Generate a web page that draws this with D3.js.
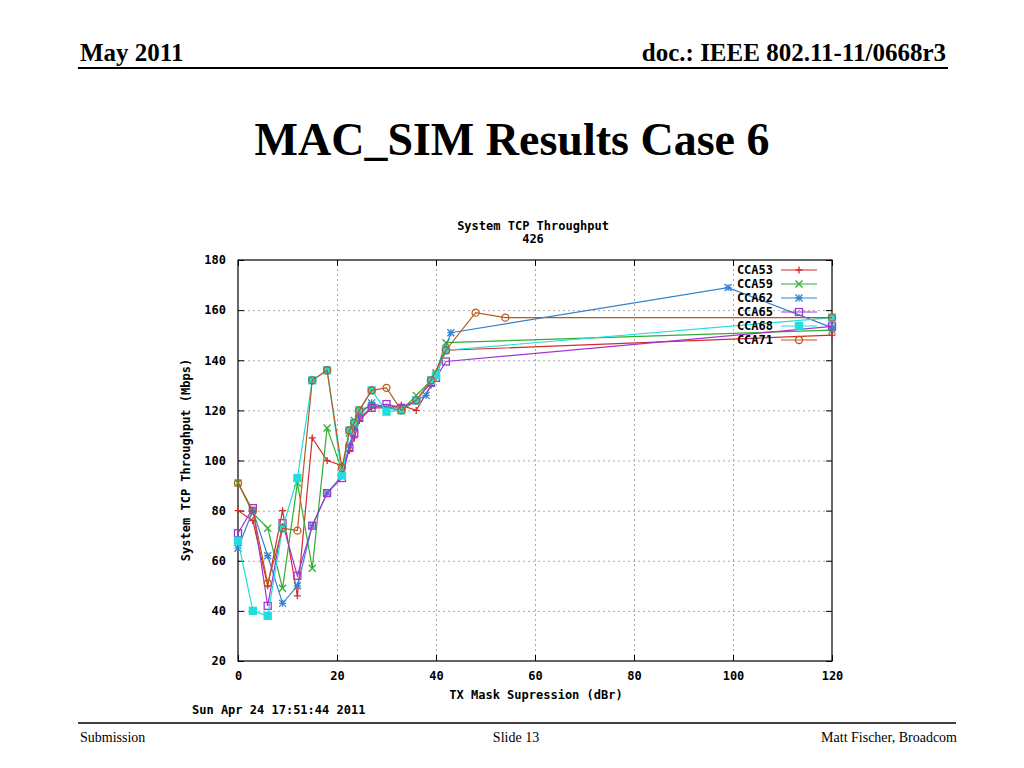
<!DOCTYPE html>
<html>
<head>
<meta charset="utf-8">
<script src="https://cdn.jsdelivr.net/npm/d3@7/dist/d3.min.js"></script>
<style>
  html, body { margin: 0; padding: 0; background: #fff; }
  .slide-text { font-family: "Liberation Serif", "Times New Roman", serif; fill: #000; }
  .gp-text { font-family: "DejaVu Sans Mono", monospace; font-weight: bold; font-size: 12px; fill: #000; }
</style>
</head>
<body>
<div id="slide"></div>
<script>
// ── Data ─────────────────────────────────────────────────────────────────
const seriesNames = ["CCA53", "CCA59", "CCA62", "CCA65", "CCA68", "CCA71"];
const seriesColors = ["#d42a2a", "#2fae2f", "#3383cf", "#a235d6", "#22dede", "#b95a1c"];
const seriesMarkers = ["plus", "cross", "star", "square", "filled", "circle"];

const xBase = [0, 3, 6, 9, 12, 15, 18, 21, 22.5, 23.5, 24.5, 27, 30, 33, 36, 39, 40, 42, 120];
const xCCA62 = [0, 3, 6, 9, 12, 15, 18, 21, 22.5, 23.5, 24.5, 27, 30, 33, 36, 38, 40, 43, 99, 120];
const xCCA71 = [0, 3, 6, 9, 12, 15, 18, 21, 22.5, 23.5, 24.5, 27, 30, 33, 36, 39, 42, 48, 54, 120];

const yCCA53 = [80, 76, 50, 80, 46, 109, 100, 98, 104, 109, 116, 121, 121, 122, 120, 130, 134, 144, 150];
const yCCA59 = [91, 79, 73, 49, 91, 57, 113, 96, 111, 116, 120, 122, 121, 120, 126, 132, 135, 147, 152];
const yCCA62 = [65, 80, 62, 43, 50, 74, 87, 94, 106, 113, 118, 123, 121, 121, 124, 126, 134, 151, 169, 153];
const yCCA65 = [71, 81, 42, 75, 54, 74, 87, 93, 105, 111, 117, 121, 122.5, 121, 124, 131, 133, 139.5, 153.5];
const yCCA68 = [68, 40, 38, 73, 93, 132, 136, 94, 112, 115, 120, 128, 119.5, 120, 124, 132, 134, 144, 157];
const yCCA71 = [91, 80, 51, 73, 72, 132, 136, 97, 112, 115, 120, 128, 129, 120, 124, 132, 144, 159, 157, 157];

const xTicks = [0, 20, 40, 60, 80, 100, 120];
const yTicks = [20, 40, 60, 80, 100, 120, 140, 160, 180];

function renderSlide(selector) {
  const seriesX = [xBase, xBase, xCCA62, xBase, xBase, xCCA71];
  const seriesY = [yCCA53, yCCA59, yCCA62, yCCA65, yCCA68, yCCA71];
  const series = seriesNames.map((name, i) => ({
    name,
    color: seriesColors[i],
    marker: seriesMarkers[i],
    points: seriesX[i].map((x, j) => ({ x, y: seriesY[i][j] })),
  }));

  // ── SVG ──────────────────────────────────────────────────────────────────
  const svg = d3
    .select(selector)
    .append("svg")
    .attr("width", 1024)
    .attr("height", 768);

  // ── Slide header / footer ───────────────────────────────────────────────
  svg.append("text").attr("class", "slide-text")
    .attr("x", 80).attr("y", 61)
    .style("font-size", "25px").style("font-weight", "bold")
    .text("May 2011");

  svg.append("text").attr("class", "slide-text")
    .attr("x", 946).attr("y", 61)
    .attr("text-anchor", "end")
    .style("font-size", "25px").style("font-weight", "bold")
    .text("doc.: IEEE 802.11-11/0668r3");

  svg.append("line")
    .attr("x1", 78).attr("x2", 948).attr("y1", 68).attr("y2", 68)
    .attr("stroke", "#000").attr("stroke-width", 2);

  svg.append("text").attr("class", "slide-text")
    .attr("x", 512).attr("y", 155)
    .attr("text-anchor", "middle")
    .style("font-size", "46px").style("font-weight", "bold")
    .text("MAC_SIM Results Case 6");

  svg.append("line")
    .attr("x1", 78).attr("x2", 956).attr("y1", 723).attr("y2", 723)
    .attr("stroke", "#000").attr("stroke-width", 1.5);

  svg.append("text").attr("class", "slide-text")
    .attr("x", 80).attr("y", 742).style("font-size", "14px")
    .text("Submission");

  svg.append("text").attr("class", "slide-text")
    .attr("x", 516).attr("y", 742).attr("text-anchor", "middle")
    .style("font-size", "14px")
    .text("Slide 13");

  svg.append("text").attr("class", "slide-text")
    .attr("x", 957).attr("y", 742).attr("text-anchor", "end")
    .style("font-size", "14px")
    .text("Matt Fischer, Broadcom");

  // ── Scales ───────────────────────────────────────────────────────────────
  const xScale = d3.scaleLinear().domain([0, 120]).range([238, 832]);
  const yScale = d3.scaleLinear().domain([20, 180]).range([661, 260]);
  const left = xScale.range()[0], right = xScale.range()[1];
  const top = yScale.range()[1], bottom = yScale.range()[0];

  const g = svg.append("g").attr("class", "plot");

  // ── Grid Lines ───────────────────────────────────────────────────────────
  g.append("g")
    .attr("transform", `translate(0,${bottom})`)
    .call(d3.axisBottom(xScale).tickValues(xTicks.slice(1, -1)).tickSize(-(bottom - top)).tickFormat(""))
    .call((a) => a.select(".domain").remove())
    .call((a) => a.selectAll("line").attr("stroke", "#a8a8a8").attr("stroke-dasharray", "2,3"));

  g.append("g")
    .attr("transform", `translate(${left},0)`)
    .call(d3.axisLeft(yScale).tickValues(yTicks.slice(1, -1)).tickSize(-(right - left)).tickFormat(""))
    .call((a) => a.select(".domain").remove())
    .call((a) => a.selectAll("line").attr("stroke", "#a8a8a8").attr("stroke-dasharray", "2,3"));

  // ── Axes (inward ticks, mirrored) ───────────────────────────────────────
  const tickLen = 6;
  const styleAxis = (a) => {
    a.select(".domain").remove();
    a.selectAll("line").attr("stroke", "#000");
    a.selectAll("text").attr("class", "gp-text").attr("fill", null).attr("font-family", null).style("font-size", null);
  };

  g.append("g")
    .attr("transform", `translate(0,${bottom})`)
    .call(d3.axisBottom(xScale).tickValues(xTicks).tickSizeInner(-tickLen).tickSizeOuter(0).tickPadding(10))
    .call(styleAxis);

  g.append("g")
    .attr("transform", `translate(0,${top})`)
    .call(d3.axisTop(xScale).tickValues(xTicks).tickSizeInner(-tickLen).tickSizeOuter(0).tickFormat(""))
    .call(styleAxis);

  g.append("g")
    .attr("transform", `translate(${left},0)`)
    .call(d3.axisLeft(yScale).tickValues(yTicks).tickSizeInner(-tickLen).tickSizeOuter(0).tickPadding(12))
    .call(styleAxis);

  g.append("g")
    .attr("transform", `translate(${right},0)`)
    .call(d3.axisRight(yScale).tickValues(yTicks).tickSizeInner(-tickLen).tickSizeOuter(0).tickFormat(""))
    .call(styleAxis);

  g.append("rect")
    .attr("x", left).attr("y", top)
    .attr("width", right - left).attr("height", bottom - top)
    .attr("fill", "none").attr("stroke", "#000").attr("stroke-width", 1.2);

  // ── Chart Titles ─────────────────────────────────────────────────────────
  svg.append("text").attr("class", "gp-text")
    .attr("x", 533).attr("y", 230).attr("text-anchor", "middle")
    .text("System TCP Throughput");
  svg.append("text").attr("class", "gp-text")
    .attr("x", 533).attr("y", 243).attr("text-anchor", "middle")
    .text("426");

  svg.append("text").attr("class", "gp-text")
    .attr("x", 536).attr("y", 699).attr("text-anchor", "middle")
    .text("TX Mask Supression (dBr)");

  svg.append("text").attr("class", "gp-text")
    .attr("transform", "rotate(-90)")
    .attr("x", -460).attr("y", 190).attr("text-anchor", "middle")
    .text("System TCP Throughput (Mbps)");

  svg.append("text").attr("class", "gp-text")
    .attr("x", 192).attr("y", 714)
    .text("Sun Apr 24 17:51:44 2011");

  // ── Markers ──────────────────────────────────────────────────────────────
  const drawMarker = (sel, type, color) => {
    const s = 3.5;
    if (type === "plus" || type === "star") {
      sel.append("path").attr("d", `M${-s},0H${s}M0,${-s}V${s}`)
        .attr("stroke", color).attr("stroke-width", 1.3);
    }
    if (type === "cross" || type === "star") {
      sel.append("path").attr("d", `M${-s},${-s}L${s},${s}M${-s},${s}L${s},${-s}`)
        .attr("stroke", color).attr("stroke-width", 1.3);
    }
    if (type === "square" || type === "filled") {
      sel.append("rect").attr("x", -s).attr("y", -s).attr("width", 2 * s).attr("height", 2 * s)
        .attr("fill", type === "filled" ? color : "none")
        .attr("stroke", color).attr("stroke-width", 1.3);
    }
    if (type === "circle") {
      sel.append("circle").attr("r", s)
        .attr("fill", "none").attr("stroke", color).attr("stroke-width", 1.3);
    }
  };

  // ── Lines & Points ───────────────────────────────────────────────────────
  const line = d3.line().x((d) => xScale(d.x)).y((d) => yScale(d.y));

  series.forEach((s) => {
    const sg = g.append("g").attr("class", "series");
    sg.append("path")
      .datum(s.points)
      .attr("d", line)
      .attr("fill", "none")
      .attr("stroke", s.color)
      .attr("stroke-width", 1.2);

    sg.selectAll(".pt")
      .data(s.points)
      .join("g")
      .attr("class", "pt")
      .attr("transform", (d) => `translate(${xScale(d.x)},${yScale(d.y)})`)
      .each(function () { drawMarker(d3.select(this), s.marker, s.color); });
  });

  // ── Legend ───────────────────────────────────────────────────────────────
  const legend = svg.append("g").attr("class", "legend");
  series.forEach((s, i) => {
    const y = 270 + i * 14;
    const row = legend.append("g").attr("transform", `translate(0,${y})`);
    row.append("text").attr("class", "gp-text")
      .attr("x", 773).attr("y", 4).attr("text-anchor", "end")
      .text(s.name);
    row.append("line")
      .attr("x1", 781).attr("x2", 817).attr("y1", 0).attr("y2", 0)
      .attr("stroke", s.color).attr("stroke-width", 1.2);
    const m = row.append("g").attr("transform", "translate(799,0)");
    drawMarker(m, s.marker, s.color);
  });
}

// ── Render ─────────────────────────────────────────────────────────────────
renderSlide("#slide");
</script>
</body>
</html>
